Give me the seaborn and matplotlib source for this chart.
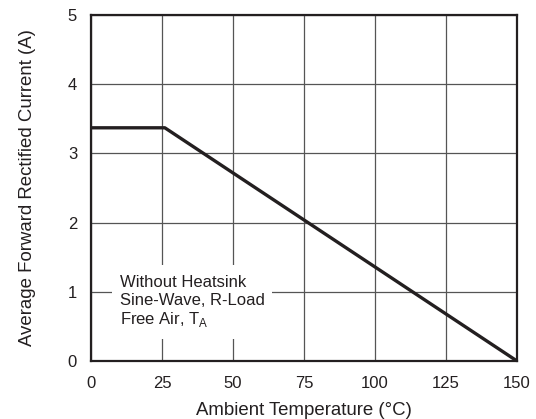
import matplotlib
matplotlib.use("Agg")
import matplotlib.pyplot as plt
from matplotlib.patches import Rectangle
import seaborn as sns
import pandas as pd

# Derating curve points
temperature = [0, 26, 150]
current = [3.37, 3.37, 0]

x_ticks = [0, 25, 50, 75, 100, 125, 150]
y_ticks = [0, 1, 2, 3, 4, 5]

note = "Without Heatsink\nSine-Wave, R-Load\nFree Air, T$_\\mathregular{A}$"

sns.set_style("white")
plt.rcParams['font.family'] = ['Liberation Sans', 'DejaVu Sans']

df = pd.DataFrame({"Temperature": temperature, "Current": current})

fig = plt.figure(figsize=(5.36, 4.19), dpi=100)
ax = fig.add_axes([91 / 536, 1 - 361 / 419, 426 / 536, 346 / 419])

sns.lineplot(data=df, x="Temperature", y="Current", ax=ax, color="#231f20",
             linewidth=2.4, zorder=3)

ax.set_xlim(0, 150)
ax.set_ylim(0, 5)
ax.set_xticks(x_ticks)
ax.set_yticks(y_ticks)
ax.grid(True, color="#555555", linewidth=0.9)
ax.tick_params(axis="x", length=0, labelsize=12, pad=10.5, colors="#231f20")
ax.tick_params(axis="y", length=0, labelsize=12, pad=10, colors="#231f20")
for s in ax.spines.values():
    s.set_color("#231f20")
    s.set_linewidth(1.6)
    s.set_zorder(4)

ax.set_xlabel("Ambient Temperature (\u00b0C)", fontsize=13.4, color="#231f20", labelpad=8.5)
ax.set_ylabel("Average Forward Rectified Current (A)", fontsize=13.4, color="#231f20", labelpad=22.5)

# white panel behind the note, hiding the grid
ax.add_patch(Rectangle((7.4, 0.32), 56.3, 1.07, facecolor="white",
                       edgecolor="none", zorder=2.5))
ax.text(10.2, 0.85, note, fontsize=12, color="#231f20", va="center", ha="left",
        linespacing=1.17, zorder=5)

fig.savefig("out.png", dpi=100)
